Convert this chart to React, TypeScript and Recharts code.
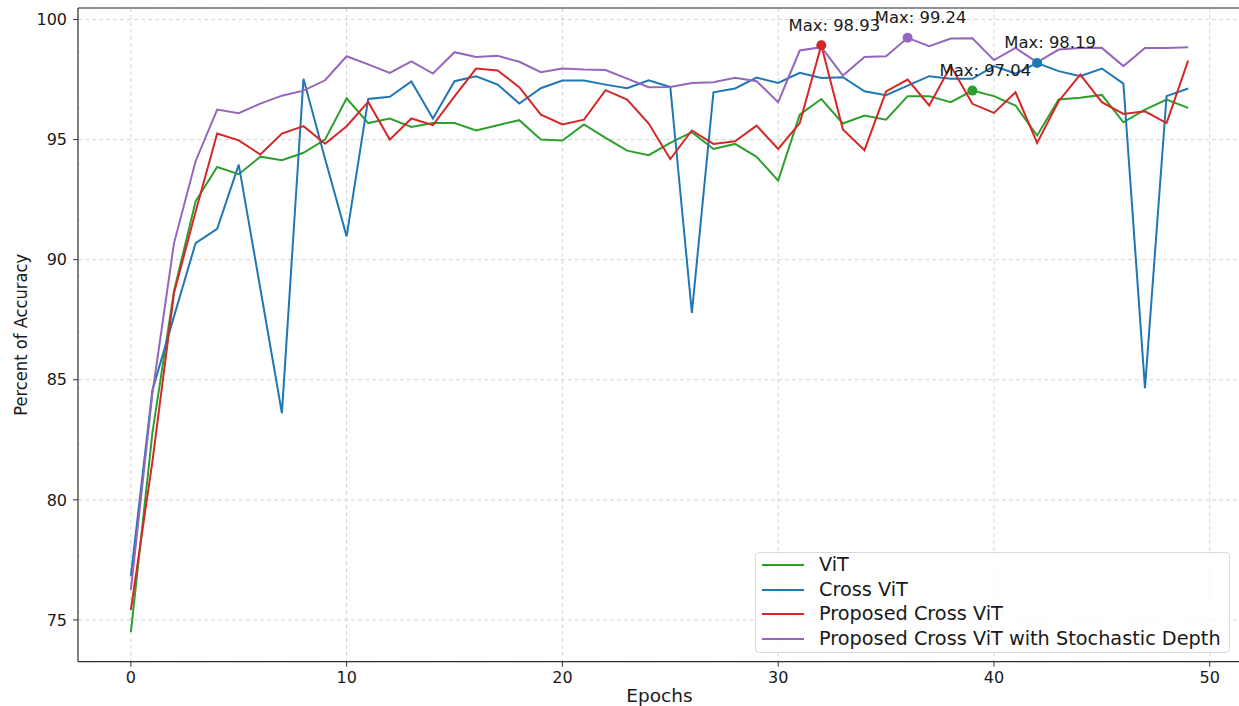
import React from 'react';
import { LineChart, Line, XAxis, YAxis, CartesianGrid, Legend, ReferenceDot, ReferenceLine } from 'recharts';

const epochs = Array.from({ length: 50 }, (_, i) => i);

const vit = [
  74.49, 82.8, 88.7, 92.43, 93.86, 93.56, 94.29, 94.14, 94.45, 95.0,
  96.72, 95.69, 95.88, 95.53, 95.69, 95.69, 95.38, 95.6, 95.81, 95.0,
  94.96, 95.63, 95.07, 94.54, 94.35, 94.86, 95.31, 94.61, 94.82, 94.28,
  93.29, 96.04, 96.69, 95.67, 96.0, 95.83, 96.81, 96.81, 96.56, 97.04,
  96.81, 96.42, 95.17, 96.67, 96.74, 96.86, 95.72, 96.25, 96.67, 96.32,
];

const crossVit = [
  76.83, 84.58, 87.64, 90.69, 91.28, 93.96, 88.8, 83.61, 97.53, 94.2,
  90.97, 96.69, 96.78, 97.42, 95.88, 97.43, 97.64, 97.29, 96.5, 97.14,
  97.46, 97.46, 97.29, 97.14, 97.47, 97.19, 87.78, 96.97, 97.13, 97.58,
  97.36, 97.78, 97.57, 97.6, 97.01, 96.85, 97.25, 97.64, 97.53, 97.53,
  98.06, 97.75, 98.19, 97.85, 97.64, 97.96, 97.33, 84.65, 96.81, 97.13,
];

const proposed = [
  75.42, 81.6, 88.61, 92.0, 95.25, 94.97, 94.38, 95.25, 95.56, 94.83,
  95.56, 96.57, 95.0, 95.88, 95.6, 96.8, 97.96, 97.88, 97.18, 96.04,
  95.63, 95.83, 97.06, 96.67, 95.67, 94.19, 95.38, 94.82, 94.93, 95.58,
  94.61, 95.69, 98.93, 95.42, 94.56, 97.01, 97.5, 96.42, 98.06, 96.49,
  96.11, 96.97, 94.86, 96.6, 97.71, 96.56, 96.07, 96.18, 95.69, 98.29,
];

const stochastic = [
  76.25, 84.44, 90.69, 94.1, 96.25, 96.1, 96.5, 96.83, 97.04, 97.47,
  98.47, 98.13, 97.78, 98.26, 97.75, 98.64, 98.44, 98.49, 98.24, 97.81,
  97.96, 97.92, 97.9, 97.54, 97.18, 97.19, 97.36, 97.39, 97.57, 97.43,
  96.56, 98.71, 98.85, 97.67, 98.44, 98.47, 99.24, 98.89, 99.21, 99.22,
  98.31, 98.82, 98.22, 98.75, 98.81, 98.82, 98.06, 98.81, 98.81, 98.85,
];

const xTicks = [0, 10, 20, 30, 40, 50];
const yTicks = [75, 80, 85, 90, 95, 100];
const X_DOMAIN: [number, number] = [-2.45, 51.45];
const Y_DOMAIN: [number, number] = [73.26, 100.48];

const seriesNames = ['ViT', 'Cross ViT', 'Proposed Cross ViT', 'Proposed Cross ViT with Stochastic Depth'];
const seriesKeys = ['vit', 'crossVit', 'proposed', 'stochastic'];
const seriesColors = ['#2ca02c', '#1f77b4', '#d62728', '#9467bd'];
const seriesValues = [vit, crossVit, proposed, stochastic];

const data = epochs.map((e, i) => ({
  epoch: e,
  vit: vit[i],
  crossVit: crossVit[i],
  proposed: proposed[i],
  stochastic: stochastic[i],
}));

const FONT = 'DejaVu Sans, sans-serif';

const maxima = seriesValues.map((vals, s) => {
  let idx = 0;
  vals.forEach((v, i) => {
    if (v > vals[idx]) idx = i;
  });
  return { x: epochs[idx], y: vals[idx], color: seriesColors[s] };
});

const MaxShape = (props: any) => {
  const { cx, cy, fill, value } = props;
  return (
    <g>
      <circle cx={cx} cy={cy} r={5} fill={fill} />
      <text
        x={cx + 13}
        y={cy - 20}
        textAnchor="middle"
        dominantBaseline="central"
        fontSize={16.4}
        fontFamily={FONT}
        fill="#1a1a1a"
      >
        {`Max: ${value.toFixed(2)}`}
      </text>
    </g>
  );
};

const YLabel = (props: any) => {
  const vb = props.viewBox || { x: 0, y: 0, width: 0, height: 0 };
  const x = vb.x + 27;
  const y = vb.y + vb.height / 2;
  return (
    <text
      x={x}
      y={y}
      transform={`rotate(-90 ${x} ${y})`}
      textAnchor="middle"
      fontSize={18}
      fontFamily={FONT}
      fill="#1a1a1a"
      textLength={162}
      lengthAdjust="spacingAndGlyphs"
    >
      Percent of Accuracy
    </text>
  );
};

const XLabel = (props: any) => {
  const vb = props.viewBox || { x: 0, y: 0, width: 0, height: 0 };
  return (
    <text
      x={vb.x + vb.width / 2}
      y={vb.y + vb.height - 4.5}
      textAnchor="middle"
      fontSize={18.5}
      fontFamily={FONT}
      fill="#1a1a1a"
    >
      Epochs
    </text>
  );
};

const LegendBox = () => (
  <div
    style={{
      width: 475,
      height: 101,
      boxSizing: 'border-box',
      border: '1px solid #d9d9d9',
      borderRadius: 4,
      background: 'rgba(255,255,255,0.8)',
      position: 'relative',
      fontFamily: FONT,
    }}
  >
    {seriesNames.map((name, i) => (
      <div
        key={name}
        style={{
          position: 'absolute',
          left: 6,
          top: 12 + i * 24.6 - 12,
          height: 24,
          display: 'flex',
          alignItems: 'center',
          whiteSpace: 'nowrap',
        }}
      >
        <svg width={42} height={4} style={{ display: 'block' }}>
          <line x1={0} y1={2} x2={42} y2={2} stroke={seriesColors[i]} strokeWidth={2.2} />
        </svg>
        <span style={{ marginLeft: 15, fontSize: 19.3, color: '#1a1a1a', lineHeight: '24px' }}>{name}</span>
      </div>
    ))}
  </div>
);

export default function App() {
  return (
    <div
      style={{
        position: 'absolute',
        left: 0,
        top: 0,
        width: 1239,
        height: 706,
        overflow: 'hidden',
        background: '#fff',
        fontFamily: FONT,
      }}
    >
      <LineChart width={1241} height={706} data={data} margin={{ top: 8, right: 0, bottom: 0, left: 0 }}>
        <CartesianGrid stroke="#cfcfcf" strokeDasharray="4 3" strokeWidth={0.9} />
        <XAxis
          type="number"
          dataKey="epoch"
          domain={X_DOMAIN}
          ticks={xTicks}
          allowDataOverflow
          height={44.3}
          tickSize={5}
          tickMargin={5}
          stroke="#333"
          tick={{ fontSize: 16, fill: '#1a1a1a', fontFamily: FONT }}
          tickLine={{ stroke: '#333' }}
          axisLine={{ stroke: '#333', strokeWidth: 1.2 }}
          label={<XLabel />}
        />
        <YAxis
          type="number"
          domain={Y_DOMAIN}
          ticks={yTicks}
          allowDataOverflow
          width={78}
          tickSize={5}
          tickMargin={6}
          stroke="#333"
          tick={{ fontSize: 16, fill: '#1a1a1a', fontFamily: FONT }}
          tickLine={{ stroke: '#333' }}
          axisLine={{ stroke: '#333', strokeWidth: 1.2 }}
          label={<YLabel />}
        />
        <ReferenceLine y={Y_DOMAIN[1]} stroke="#333" strokeWidth={1.2} ifOverflow="visible" />
        {seriesKeys.map((k, i) => (
          <Line
            key={k}
            type="linear"
            dataKey={k}
            name={seriesNames[i]}
            stroke={seriesColors[i]}
            strokeWidth={2}
            dot={false}
            activeDot={false}
            isAnimationActive={false}
          />
        ))}
        {maxima.map((m, i) => (
          <ReferenceDot
            key={`max-${i}`}
            x={m.x}
            y={m.y}
            r={5}
            fill={m.color}
            stroke="none"
            ifOverflow="visible"
            shape={(p: any) => <MaxShape {...p} fill={m.color} value={m.y} />}
          />
        ))}
        <Legend
          layout="horizontal"
          verticalAlign="middle"
          align="center"
          content={() => <LegendBox />}
          wrapperStyle={{ position: 'absolute', left: 755, top: 552, width: 475, height: 101 }}
        />
      </LineChart>
    </div>
  );
}
